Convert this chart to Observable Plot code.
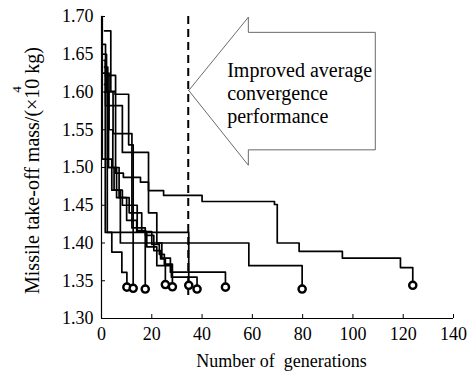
<!DOCTYPE html>
<html><head><meta charset="utf-8">
<script src="https://cdn.jsdelivr.net/npm/d3@7"></script>
<script src="https://cdn.jsdelivr.net/npm/@observablehq/plot@0.6"></script>
<style>
body{margin:0;background:#fff}
svg{display:block}
svg, svg text{font-family:'Liberation Serif','Times New Roman',serif !important}
</style>
</head><body><div id="chart"></div>
<script>
// Tick values
const xTicks = [0, 20, 40, 60, 80, 100, 120, 140];
const yTicks = [1.30, 1.35, 1.40, 1.45, 1.50, 1.55, 1.60, 1.65, 1.70];

// Convergence runs: generation numbers and best take-off mass (×10^4 kg)
const runGenerations = [
  [0.8, 1.6, 8.3, 18.7, 24.7, 40, 68.8, 69.9, 78.6, 95.8, 118.9, 123.8],
  [0.2, 0.3, 4.1, 7.5, 58.6, 79.8],
  [1.0, 1.5, 34.7],
  [1.5, 5.6, 8.7, 15.5, 18.7, 22, 24, 27.4, 49.3],
  [1.2, 2.5, 6, 10, 14, 18, 22, 27.8, 38],
  [1.2, 2.3, 4.1, 8.1, 10.1],
  [1.2, 3.7, 5.4, 10.8, 12.6],
  [0.6, 2, 4.6, 12.1, 17.4],
  [1.3, 2.8, 5, 8.3, 14.2, 17.5, 20.8, 23.5, 25.4],
  [0.8, 3, 4.5, 7, 11, 16, 20, 23, 25, 28.2]
];
const runMasses = [
  [1.663, 1.582, 1.520, 1.4695, 1.463, 1.455, 1.451, 1.400, 1.389, 1.380, 1.3675, 1.344],
  [1.700, 1.511, 1.470, 1.400, 1.370, 1.339],
  [1.642, 1.414, 1.344],
  [1.622, 1.4925, 1.487, 1.4805, 1.440, 1.400, 1.380, 1.3613, 1.3415],
  [1.633, 1.500, 1.460, 1.430, 1.415, 1.395, 1.370, 1.3547, 1.339],
  [1.610, 1.414, 1.388, 1.361, 1.3415],
  [1.681, 1.601, 1.597, 1.530, 1.340],
  [1.650, 1.600, 1.545, 1.420, 1.339],
  [1.600, 1.500, 1.470, 1.450, 1.4165, 1.410, 1.390, 1.379, 1.345],
  [1.625, 1.550, 1.500, 1.460, 1.440, 1.415, 1.398, 1.385, 1.372, 1.342]
];

// Annotation: dashed reference line and arrow outline
const dashedGeneration = [34.5];
const dashedSpan = [1.70, 1.3305];
const arrowGen  = [34.7, 58.4, 58.4, 108.9, 108.9, 58.4, 58.4, 34.7];
const arrowMass = [1.602, 1.699, 1.679, 1.679, 1.5234, 1.5234, 1.503, 1.602];
const arrowText = ["Improved average", "convergence", "performance"];
const arrowTextGen = [50, 50, 50];
const arrowTextMass = [1.6285, 1.598, 1.567];

const xLabel = "Number of\u00a0 generations";
const yLabel = "Missile take-off mass/(×10 kg)";
const yLabelSup = "4";

const steps = runGenerations.flatMap((g, r) => g.map((x, i) => ({run: r, gen: x, mass: runMasses[r][i]})));
const ends = runGenerations.map((g, r) => ({gen: g[g.length - 1], mass: runMasses[r][runMasses[r].length - 1]}));
const arrow = arrowGen.map((x, i) => ({gen: x, mass: arrowMass[i]}));
const labels = arrowText.map((t, i) => ({t, gen: arrowTextGen[i], mass: arrowTextMass[i]}));

const font = "'Liberation Serif', 'Times New Roman', serif";

const chart = Plot.plot({
  width: 473, height: 374,
  marginLeft: 101, marginRight: 20, marginTop: 16, marginBottom: 56,
  style: {fontFamily: font, fontSize: "18px", color: "black", background: "white"},
  x: {domain: [0, 140], ticks: xTicks},
  y: {domain: [1.30, 1.70], ticks: yTicks},
  marks: [
    Plot.axisX(xTicks, {tickSize: 0, tickPadding: 9, label: null, fontSize: 18, fontFamily: font}),
    Plot.axisY(yTicks, {tickSize: 0, tickPadding: 8, label: null, tickFormat: d3.format(".2f"), fontSize: 18, fontFamily: font}),
    // inward ticks
    Plot.ruleX(xTicks, {y1: 1.30, y2: 1.30, insetTop: -4, stroke: "black", strokeWidth: 1}),
    Plot.ruleY(yTicks, {x1: 0, x2: 0, insetRight: -4, stroke: "black", strokeWidth: 1}),
    // axis lines
    Plot.ruleX([0], {y1: 1.30, y2: 1.70, stroke: "black", strokeWidth: 1.2}),
    Plot.ruleY([1.30], {x1: 0, x2: 140, stroke: "black", strokeWidth: 1.2}),
    // convergence curves
    Plot.line(steps, {x: "gen", y: "mass", z: "run", curve: "step-after", stroke: "black", strokeWidth: 1.7}),
    // dashed line
    Plot.ruleX(dashedGeneration, {y1: dashedSpan[0], y2: dashedSpan[1], stroke: "black", strokeWidth: 2, strokeDasharray: "8,5"}),
    // arrow
    Plot.line(arrow, {x: "gen", y: "mass", stroke: "#444", strokeWidth: 0.8, fill: "white"}),
    Plot.text(labels, {x: "gen", y: "mass", text: "t", textAnchor: "start", fontSize: 20, fontFamily: font, fill: "black"}),
    // final points
    Plot.dot(ends, {x: "gen", y: "mass", r: 3.6, stroke: "black", strokeWidth: 2.4, fill: "white"}),
    // axis titles
    Plot.text([xLabel], {frameAnchor: "bottom", textAnchor: "middle", lineAnchor: "middle", dy: 43, dx: 4, fontSize: 18, fontFamily: font, fill: "black"}),
    Plot.text([yLabel], {frameAnchor: "left", textAnchor: "middle", lineAnchor: "middle", dx: -69, dy: 3, rotate: -90, fontSize: 20, fontFamily: font, fill: "black"}),
    Plot.text([yLabelSup], {frameAnchor: "top-left", textAnchor: "middle", lineAnchor: "middle", dx: -85, dy: 73, rotate: -90, fontSize: 13, fontFamily: font, fill: "black"})
  ]
});
document.getElementById("chart").appendChild(chart);
</script>
</body></html>
